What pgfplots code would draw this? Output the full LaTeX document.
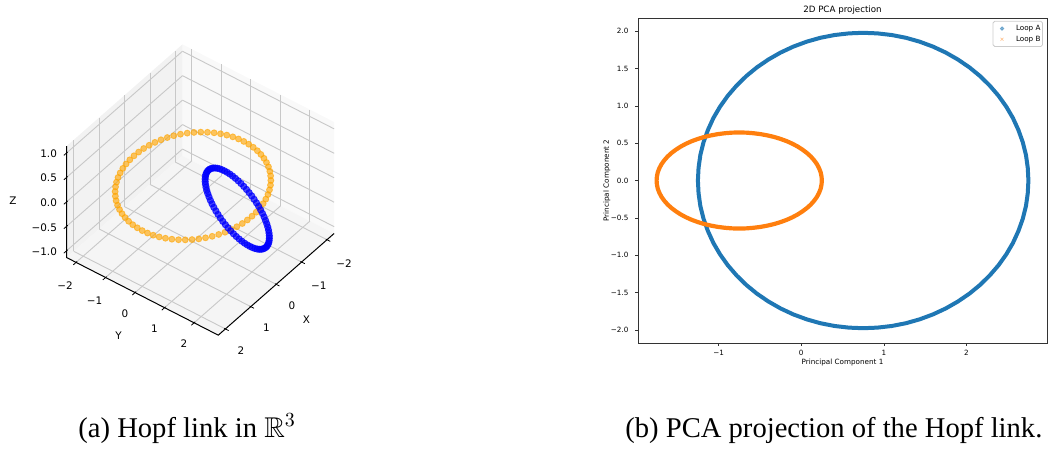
\documentclass[border=0pt]{standalone}
\usepackage{fontspec}
\setmainfont{Liberation Serif}
\newfontfamily\dv{DejaVu Sans}
\usepackage{amssymb}
\usepackage{pgfplots}
\usepackage{pgfplotstable}
\pgfplotsset{compat=1.18}
\definecolor{mplblue}{HTML}{1F77B4}
\definecolor{mplorange}{HTML}{FF7F0E}
\definecolor{morange}{HTML}{FFA500}
\definecolor{paneX}{HTML}{F9F9F9}
\definecolor{paneY}{HTML}{F2F2F2}
\definecolor{paneZ}{HTML}{F5F5F5}
\definecolor{gridc}{HTML}{C8C8C8}

% Loop A: large circle (x,y,z in 3D; p,q = PCA components)
\pgfplotstableread{
x y z p q
2.000 0.000 0 2.750 0.000
1.992 0.174 0 2.742 0.172
1.970 0.347 0 2.720 0.343
1.932 0.518 0 2.682 0.512
1.879 0.684 0 2.629 0.676
1.813 0.845 0 2.563 0.836
1.732 1.000 0 2.482 0.989
1.638 1.147 0 2.388 1.135
1.532 1.286 0 2.282 1.271
1.414 1.414 0 2.164 1.399
1.286 1.532 0 2.036 1.515
1.147 1.638 0 1.897 1.620
1.000 1.732 0 1.750 1.713
0.845 1.813 0 1.595 1.793
0.684 1.879 0 1.434 1.859
0.518 1.932 0 1.268 1.911
0.347 1.970 0 1.097 1.948
0.174 1.992 0 0.924 1.970
0.000 2.000 0 0.750 1.978
-0.174 1.992 0 0.576 1.970
-0.347 1.970 0 0.403 1.948
-0.518 1.932 0 0.232 1.911
-0.684 1.879 0 0.066 1.859
-0.845 1.813 0 -0.095 1.793
-1.000 1.732 0 -0.250 1.713
-1.147 1.638 0 -0.397 1.620
-1.286 1.532 0 -0.536 1.515
-1.414 1.414 0 -0.664 1.399
-1.532 1.286 0 -0.782 1.271
-1.638 1.147 0 -0.888 1.135
-1.732 1.000 0 -0.982 0.989
-1.813 0.845 0 -1.063 0.836
-1.879 0.684 0 -1.129 0.676
-1.932 0.518 0 -1.182 0.512
-1.970 0.347 0 -1.220 0.343
-1.992 0.174 0 -1.242 0.172
-2.000 0.000 0 -1.250 0.000
-1.992 -0.174 0 -1.242 -0.172
-1.970 -0.347 0 -1.220 -0.343
-1.932 -0.518 0 -1.182 -0.512
-1.879 -0.684 0 -1.129 -0.676
-1.813 -0.845 0 -1.063 -0.836
-1.732 -1.000 0 -0.982 -0.989
-1.638 -1.147 0 -0.888 -1.135
-1.532 -1.286 0 -0.782 -1.271
-1.414 -1.414 0 -0.664 -1.399
-1.286 -1.532 0 -0.536 -1.515
-1.147 -1.638 0 -0.397 -1.620
-1.000 -1.732 0 -0.250 -1.713
-0.845 -1.813 0 -0.095 -1.793
-0.684 -1.879 0 0.066 -1.859
-0.518 -1.932 0 0.232 -1.911
-0.347 -1.970 0 0.403 -1.948
-0.174 -1.992 0 0.576 -1.970
0.000 -2.000 0 0.750 -1.978
0.174 -1.992 0 0.924 -1.970
0.347 -1.970 0 1.097 -1.948
0.518 -1.932 0 1.268 -1.911
0.684 -1.879 0 1.434 -1.859
0.845 -1.813 0 1.595 -1.793
1.000 -1.732 0 1.750 -1.713
1.147 -1.638 0 1.897 -1.620
1.286 -1.532 0 2.036 -1.515
1.414 -1.414 0 2.164 -1.399
1.532 -1.286 0 2.282 -1.271
1.638 -1.147 0 2.388 -1.135
1.732 -1.000 0 2.482 -0.989
1.813 -0.845 0 2.563 -0.836
1.879 -0.684 0 2.629 -0.676
1.932 -0.518 0 2.682 -0.512
1.970 -0.347 0 2.720 -0.343
1.992 -0.174 0 2.742 -0.172
2.000 0.000 0 2.750 0.000
}\loopA

% Loop B: small tilted loop
\pgfplotstableread{
x y z p q
0.000 2.500 0.000 0.250 0.000
0.044 2.496 0.087 0.246 0.056
0.087 2.485 0.174 0.235 0.112
0.129 2.466 0.259 0.216 0.166
0.171 2.440 0.342 0.190 0.220
0.211 2.406 0.423 0.156 0.272
0.250 2.366 0.500 0.116 0.322
0.287 2.319 0.574 0.069 0.369
0.321 2.266 0.643 0.016 0.413
0.354 2.207 0.707 -0.043 0.455
0.383 2.143 0.766 -0.107 0.493
0.410 2.074 0.819 -0.176 0.527
0.433 2.000 0.866 -0.250 0.557
0.453 1.923 0.906 -0.327 0.583
0.470 1.842 0.940 -0.408 0.604
0.483 1.759 0.966 -0.491 0.621
0.492 1.674 0.985 -0.576 0.633
0.498 1.587 0.996 -0.663 0.641
0.500 1.500 1.000 -0.750 0.643
0.498 1.413 0.996 -0.837 0.641
0.492 1.326 0.985 -0.924 0.633
0.483 1.241 0.966 -1.009 0.621
0.470 1.158 0.940 -1.092 0.604
0.453 1.077 0.906 -1.173 0.583
0.433 1.000 0.866 -1.250 0.557
0.410 0.926 0.819 -1.324 0.527
0.383 0.857 0.766 -1.393 0.493
0.354 0.793 0.707 -1.457 0.455
0.321 0.734 0.643 -1.516 0.413
0.287 0.681 0.574 -1.569 0.369
0.250 0.634 0.500 -1.616 0.322
0.211 0.594 0.423 -1.656 0.272
0.171 0.560 0.342 -1.690 0.220
0.129 0.534 0.259 -1.716 0.166
0.087 0.515 0.174 -1.735 0.112
0.044 0.504 0.087 -1.746 0.056
0.000 0.500 0.000 -1.750 0.000
-0.044 0.504 -0.087 -1.746 -0.056
-0.087 0.515 -0.174 -1.735 -0.112
-0.129 0.534 -0.259 -1.716 -0.166
-0.171 0.560 -0.342 -1.690 -0.220
-0.211 0.594 -0.423 -1.656 -0.272
-0.250 0.634 -0.500 -1.616 -0.322
-0.287 0.681 -0.574 -1.569 -0.369
-0.321 0.734 -0.643 -1.516 -0.413
-0.354 0.793 -0.707 -1.457 -0.455
-0.383 0.857 -0.766 -1.393 -0.493
-0.410 0.926 -0.819 -1.324 -0.527
-0.433 1.000 -0.866 -1.250 -0.557
-0.453 1.077 -0.906 -1.173 -0.583
-0.470 1.158 -0.940 -1.092 -0.604
-0.483 1.241 -0.966 -1.009 -0.621
-0.492 1.326 -0.985 -0.924 -0.633
-0.498 1.413 -0.996 -0.837 -0.641
-0.500 1.500 -1.000 -0.750 -0.643
-0.498 1.587 -0.996 -0.663 -0.641
-0.492 1.674 -0.985 -0.576 -0.633
-0.483 1.759 -0.966 -0.491 -0.621
-0.470 1.842 -0.940 -0.408 -0.604
-0.453 1.923 -0.906 -0.327 -0.583
-0.433 2.000 -0.866 -0.250 -0.557
-0.410 2.074 -0.819 -0.176 -0.527
-0.383 2.143 -0.766 -0.107 -0.493
-0.354 2.207 -0.707 -0.043 -0.455
-0.321 2.266 -0.643 0.016 -0.413
-0.287 2.319 -0.574 0.069 -0.369
-0.250 2.366 -0.500 0.116 -0.322
-0.211 2.406 -0.423 0.156 -0.272
-0.171 2.440 -0.342 0.190 -0.220
-0.129 2.466 -0.259 0.216 -0.166
-0.087 2.485 -0.174 0.235 -0.112
-0.044 2.496 -0.087 0.246 -0.056
0.000 2.500 0.000 0.250 0.000
}\loopB

\begin{document}
\begin{tikzpicture}
% ---------------- 3D panel ----------------
\begin{axis}[
  set layers=standard,
  at={(96.5pt,133pt)}, anchor=origin,
  x={(-12.7pt,-11.15pt)}, y={(14.75pt,-7.55pt)}, z={(0pt,24.45pt)},
  xmin=-2.28, xmax=2.28, ymin=-2.32, ymax=2.82, zmin=-1.14, zmax=1.14,
  xtick={-2,-1,0,1,2}, xticklabels={−2,−1,0,1,2},
  ytick={-2,-1,0,1,2}, yticklabels={−2,−1,0,1,2},
  ztick={-1,-0.5,0,0.5,1}, zticklabels={−1.0,−0.5,0.0,0.5,1.0},
  tick pos=left,
  grid=major, major grid style={gridc, line width=0.45pt},
  axis line style={draw=none},
  tick style={draw=none}, major tick length=3pt, tick align=center,
  ticklabel style={font=\dv\fontsize{5.2}{6}\selectfont},
  xticklabel style={xshift=2.5pt, yshift=-3.5pt},
  yticklabel style={xshift=-1pt, yshift=-3pt},
  label style={font=\dv\fontsize{5.2}{6}\selectfont},
  xlabel={X}, ylabel={Y}, zlabel={Z},
  xlabel style={xshift=-1pt, yshift=8.5pt},
  ylabel style={xshift=-0.5pt, yshift=5.5pt},
  every axis z label/.style={at={(rel axis cs:1,0,0.5)}, anchor=center, xshift=-26.8pt, yshift=0.6pt, font=\dv\fontsize{5.2}{6}\selectfont},
  clip=false,
  unbounded coords=jump,
]
\addplot3[on layer=axis background, fill=paneX, draw=none, forget plot] coordinates {(-2.28,-2.32,-1.14) (-2.28,2.82,-1.14) (-2.28,2.82,1.14) (-2.28,-2.32,1.14) (-2.28,-2.32,-1.14)};
\addplot3[on layer=axis background, fill=paneY, draw=none, forget plot] coordinates {(-2.28,-2.32,-1.14) (2.28,-2.32,-1.14) (2.28,-2.32,1.14) (-2.28,-2.32,1.14) (-2.28,-2.32,-1.14)};
\addplot3[on layer=axis background, fill=paneZ, draw=none, forget plot] coordinates {(-2.28,-2.32,-1.14) (2.28,-2.32,-1.14) (2.28,2.82,-1.14) (-2.28,2.82,-1.14) (-2.28,-2.32,-1.14)};
% axis edges
\addplot3[black, line width=0.5pt, forget plot] coordinates {(-2.28,2.82,-1.14) (2.28,2.82,-1.14) (2.28,-2.32,-1.14) (2.28,-2.32,1.14)};
% tick marks on the three front edges
\addplot3[black, line width=0.4pt, forget plot] coordinates {
(-2,2.78,-1.14) (-2,2.93,-1.14) (nan,nan,nan)
(-1,2.78,-1.14) (-1,2.93,-1.14) (nan,nan,nan)
(0,2.78,-1.14) (0,2.93,-1.14) (nan,nan,nan)
(1,2.78,-1.14) (1,2.93,-1.14) (nan,nan,nan)
(2,2.78,-1.14) (2,2.93,-1.14) (nan,nan,nan)
(2.24,-2,-1.14) (2.39,-2,-1.14) (nan,nan,nan)
(2.24,-1,-1.14) (2.39,-1,-1.14) (nan,nan,nan)
(2.24,0,-1.14) (2.39,0,-1.14) (nan,nan,nan)
(2.24,1,-1.14) (2.39,1,-1.14) (nan,nan,nan)
(2.24,2,-1.14) (2.39,2,-1.14) (nan,nan,nan)
(2.24,-2.32,-1) (2.39,-2.32,-1) (nan,nan,nan)
(2.24,-2.32,-0.5) (2.39,-2.32,-0.5) (nan,nan,nan)
(2.24,-2.32,0) (2.39,-2.32,0) (nan,nan,nan)
(2.24,-2.32,0.5) (2.39,-2.32,0.5) (nan,nan,nan)
(2.24,-2.32,1) (2.39,-2.32,1)
};
\addplot3[only marks, mark=*, mark size=1.5pt, color=morange, mark options={fill opacity=0.62, draw opacity=0.62}, skip coords between index={72}{73}] table[x=x,y=y,z=z] {\loopA};
\addplot3[only marks, mark=*, mark size=1.6pt, color=blue, mark options={fill opacity=0.7, draw opacity=0.7}, skip coords between index={72}{73}] table[x=x,y=y,z=z] {\loopB};
\end{axis}
% ---------------- 2D PCA panel ----------------
\begin{axis}[
  at={(319pt,54.5pt)}, anchor=south west,
  scale only axis, width=204.5pt, height=162.5pt,
  xmin=-1.975, xmax=2.975, ymin=-2.176, ymax=2.176,
  xtick={-1,0,1,2}, xticklabels={−1,0,1,2},
  ytick={-2,-1.5,-1,-0.5,0,0.5,1,1.5,2},
  yticklabels={−2.0,−1.5,−1.0,−0.5,0.0,0.5,1.0,1.5,2.0},
  xtick pos=bottom, ytick pos=left, tick align=outside,
  major tick length=1.3pt, tick style={black!80, line width=0.3pt},
  axis line style={black!80, line width=0.35pt},
  ticklabel style={font=\dv\fontsize{3.6}{4}\selectfont},
  xticklabel style={yshift=1.2pt},
  yticklabel style={xshift=0pt},
  xlabel={Principal Component 1}, ylabel={Principal Component 2},
  label style={font=\dv\fontsize{3.6}{4}\selectfont},
  xlabel style={at={(axis description cs:0.5,-0.0585)}, anchor=center},
  ylabel style={at={(axis description cs:-0.0758,0.5)}, anchor=center},
  title={2D PCA projection},
  title style={font=\dv\fontsize{4.35}{5}\selectfont, at={(axis description cs:0.5,0.9877)}, anchor=center},
  legend style={at={(axis description cs:0.990,0.991)}, anchor=north east,
    font=\dv\fontsize{3.6}{4.3}\selectfont, draw=black!20, rounded corners=0.8pt,
    fill=white, inner xsep=1pt, inner ysep=2pt, row sep=2.15pt, column sep=0pt,
    nodes={inner sep=0pt, text height=2.6pt, text depth=0.6pt}, cells={anchor=west}},
  legend image code/.code={\path[draw=none, fill=none] (0pt,0pt) -- (10.5pt,0pt); \draw[#1] plot coordinates {(3.5pt,0pt)};},
]
\addplot[mplblue, line width=2pt, line join=round, forget plot] table[x=p,y=q] {\loopA};
\addplot[mplorange, line width=2.1pt, line join=round, forget plot] table[x=p,y=q] {\loopB};
\addlegendimage{only marks, mark=*, mark size=0.85pt, mplblue, mark options={fill opacity=0.5, draw opacity=0.5}}
\addlegendentry{Loop A}
\addlegendimage{only marks, mark=x, mark size=1pt, mplorange, mark options={draw opacity=0.5, line width=0.3pt}}
\addlegendentry{Loop B}
\end{axis}
% ---------------- captions ----------------
\node[anchor=base west, inner sep=0pt, font=\fontsize{14.3}{17}\selectfont] at (39pt,7.5pt) {(a) Hopf link in $\mathbb{R}^3$};
\node[anchor=base west, inner sep=0pt, font=\fontsize{14.3}{17}\selectfont] at (312.5pt,7.5pt) {(b) PCA projection of the Hopf link.};
\pgfresetboundingbox
\path[use as bounding box] (0pt,0pt) rectangle (525.5pt,226pt);
\end{tikzpicture}
\end{document}
